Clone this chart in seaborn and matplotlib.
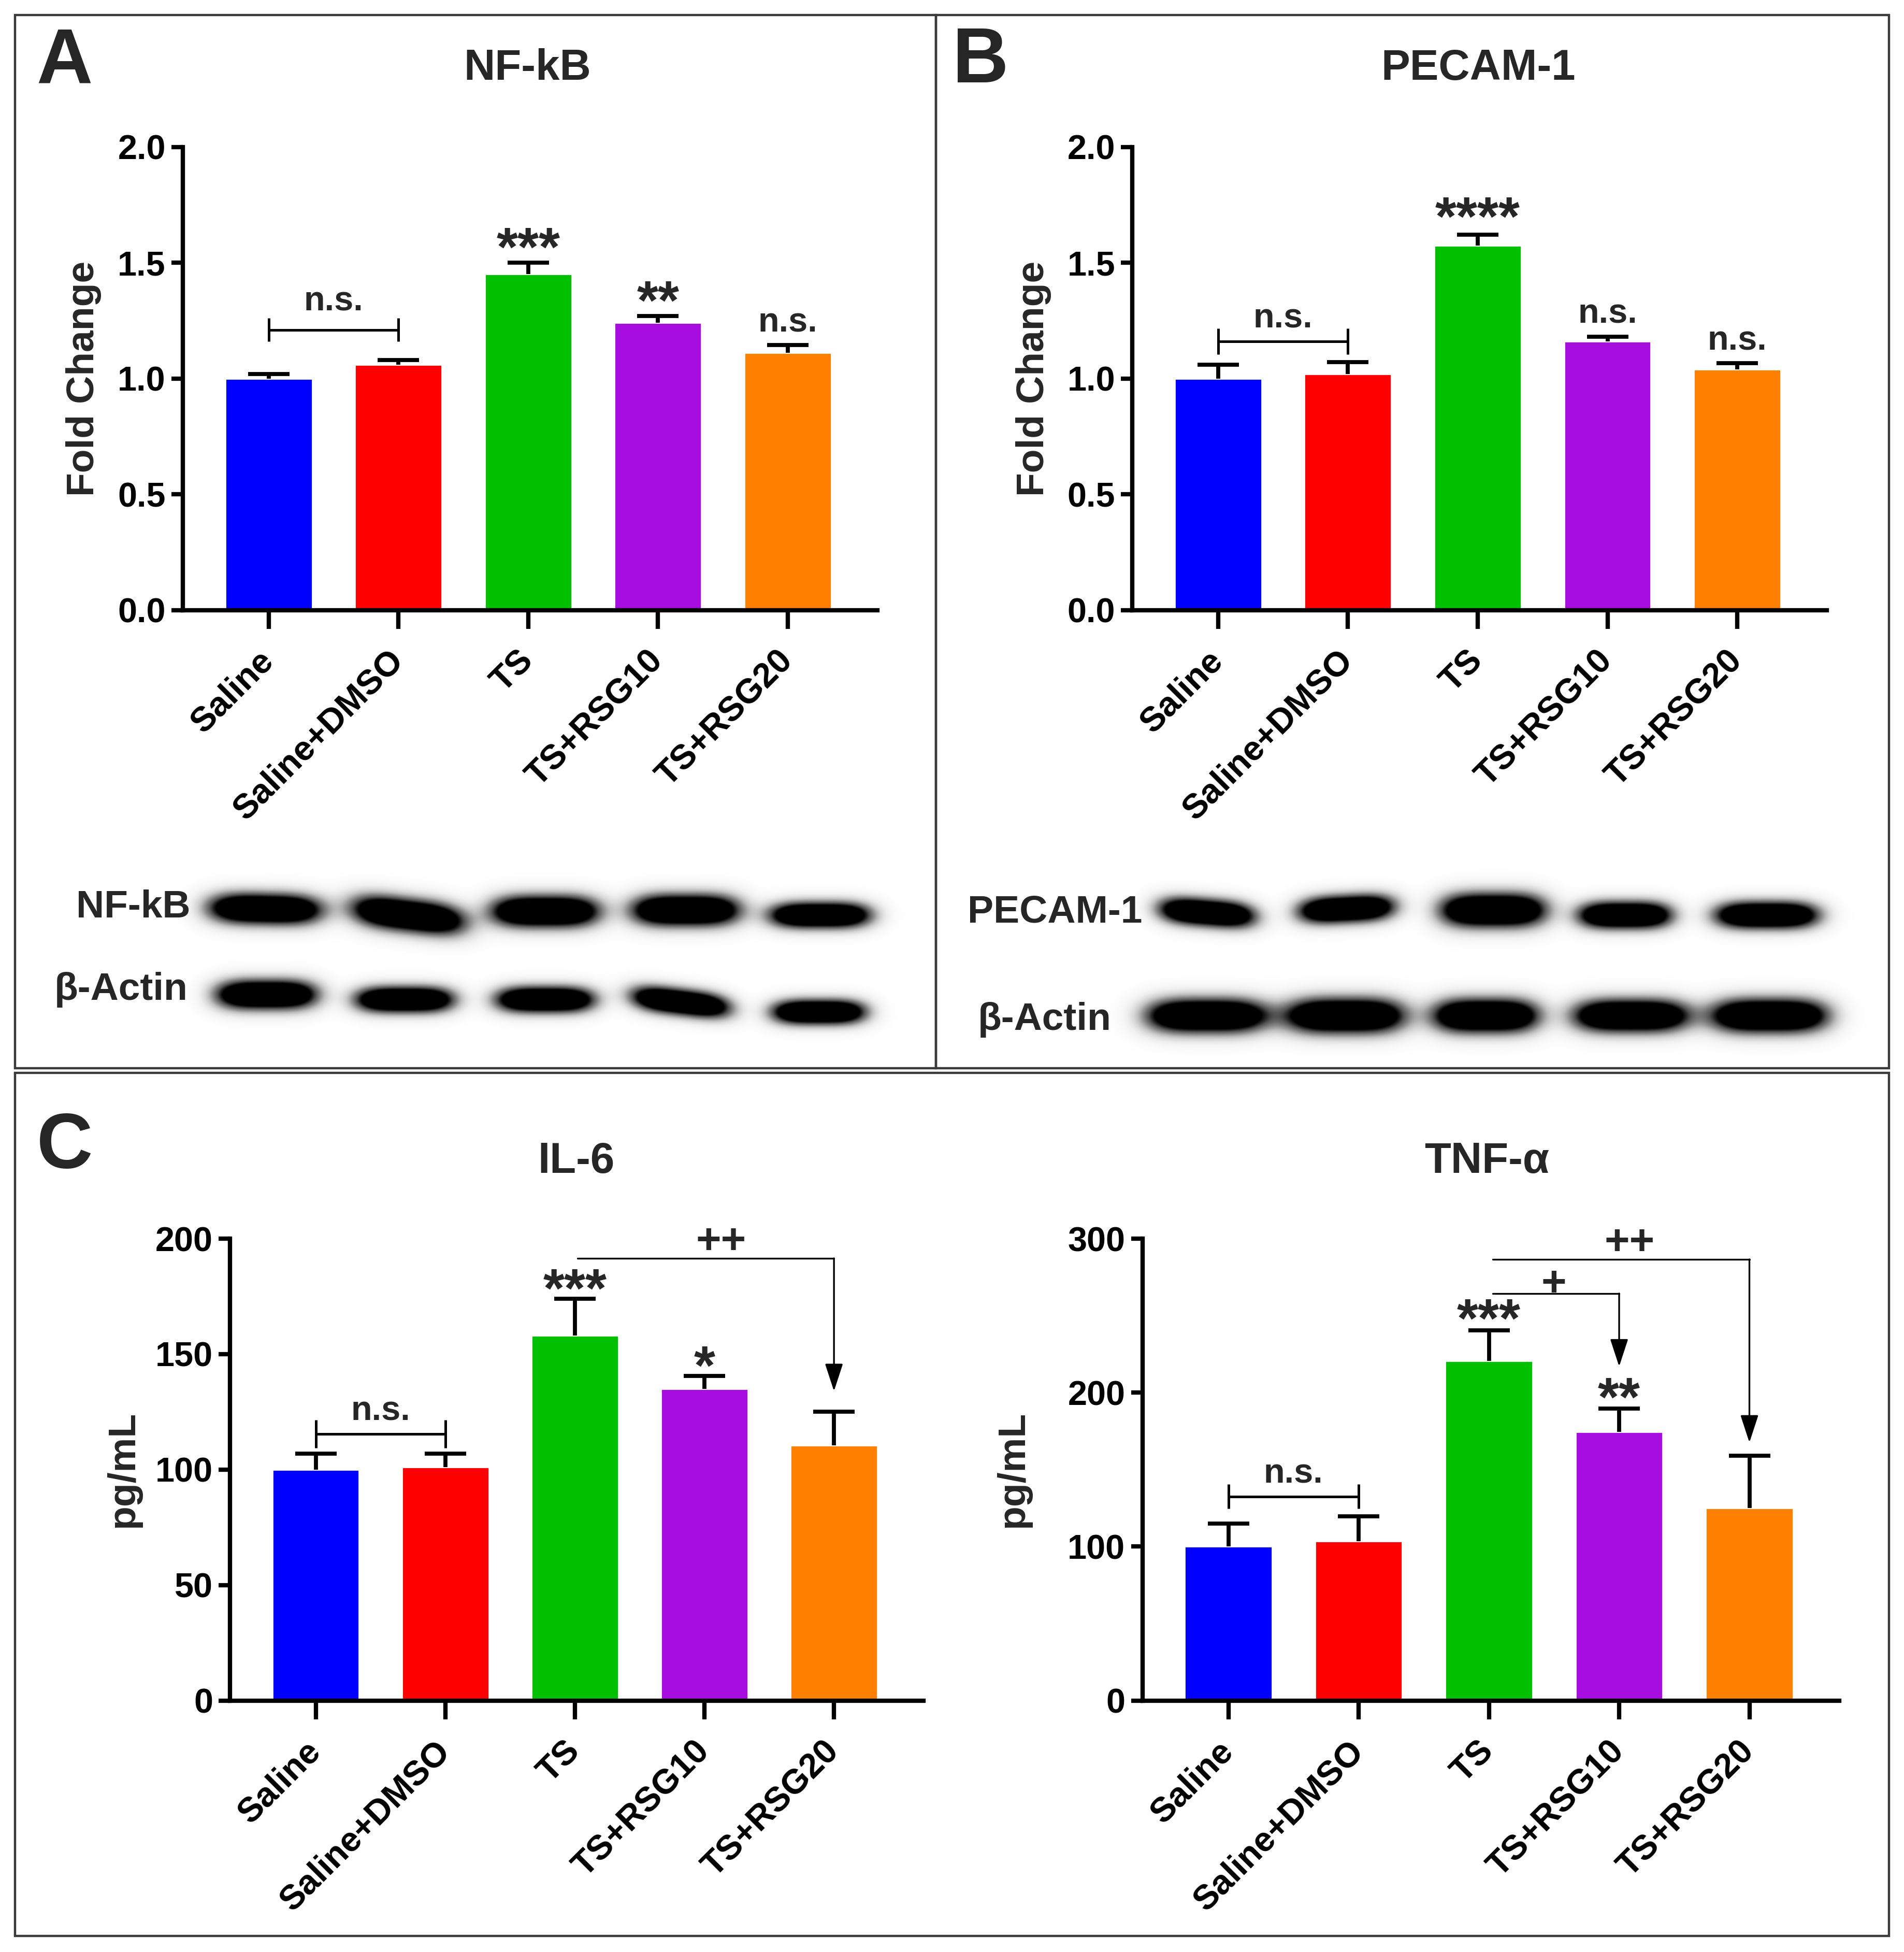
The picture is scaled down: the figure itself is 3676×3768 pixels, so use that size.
import numpy as np
import pandas as pd
import matplotlib
matplotlib.use("Agg")
import matplotlib.pyplot as plt
from matplotlib.patches import Rectangle, ArrowStyle
import seaborn as sns

# ---------------------------------------------------------------
# data
# ---------------------------------------------------------------
groups = ["Saline", "Saline+DMSO", "TS", "TS+RSG10", "TS+RSG20"]
colors = ["#0000FF", "#FF0000", "#00C000", "#A80DDF", "#FF8000"]

nfkb_mean = [1.00, 1.06, 1.45, 1.24, 1.11]
nfkb_err = [0.02, 0.02, 0.05, 0.03, 0.035]
nfkb_marks = ["", "", "***", "**", "n.s."]

pecam_mean = [1.00, 1.02, 1.575, 1.16, 1.04]
pecam_err = [0.06, 0.05, 0.045, 0.02, 0.025]
pecam_marks = ["", "", "****", "n.s.", "n.s."]

il6_mean = [100, 101, 158, 135, 110.5]
il6_err = [7, 6, 16, 5.5, 14.5]
il6_marks = ["", "", "***", "*", ""]

tnf_mean = [100, 103.5, 220.5, 174.5, 125]
tnf_err = [15, 16, 20, 15, 34]
tnf_marks = ["", "", "***", "**", ""]

fold_ticks = [0.0, 0.5, 1.0, 1.5, 2.0]
il6_ticks = [0, 50, 100, 150, 200]
tnf_ticks = [0, 100, 200, 300]

# Saline vs Saline+DMSO bracket level per panel
ns_bracket = {"nfkb": 1.21, "pecam": 1.16, "il6": 115.4, "tnf": 132.6}
# TS -> treated comparisons: (target group, line level, arrow tip, label)
il6_compare = [(4, 191.5, 134, "++")]
tnf_compare = [(3, 264.4, 217, "+"), (4, 286.6, 167.6, "++")]

# western blot bands (x, y, width, height, tilt) in layout pixels
nfkb_band = [(213, 730, 92, 26, 0.02), (328, 735, 92, 28, 0.12), (438, 732, 88, 27, 0.0),
             (551, 731, 88, 27, 0.0), (659, 735, 82, 22, 0.0)]
actin_a_band = [(214, 799, 82, 25, 0.0), (325, 803, 80, 22, 0.0), (438, 803, 80, 22, 0.0),
                (547, 805, 80, 22, 0.12), (658, 813, 76, 21, 0.0)]
pecam_band = [(970, 733, 78, 23, 0.08), (1082, 730, 78, 23, -0.05), (1200, 731, 86, 29, 0.0),
              (1306, 735, 76, 23, 0.0), (1420, 735, 84, 23, 0.0)]
actin_b_band = [(970, 816, 98, 29, 0.0), (1081, 816, 97, 30, 0.0), (1194, 816, 86, 29, 0.0),
                (1311, 816, 94, 28, 0.0), (1422, 816, 95, 29, 0.0)]

# ---------------------------------------------------------------
sns.set_theme(style="ticks")
plt.rcParams["font.family"] = ["Liberation Sans", "DejaVu Sans"]
plt.rcParams["font.weight"] = "bold"

W, H = 1530, 1568   # layout grid of the reference


def box(l, t, r, b):
    return [l / W, 1 - b / H, (r - l) / W, (b - t) / H]


def mark(ax, x, y, s, size, gap):
    # place the glyph centre `gap` points above y
    k = 0.45 if "*" in s else (0.33 if "+" in s else 0.27)
    ax.annotate(s, xy=(x, y), xytext=(0, gap - k * size), textcoords="offset points",
                ha="center", va="baseline", fontsize=size, fontweight="bold",
                annotation_clip=False)


def bracket(ax, x0, x1, y, tick):
    kw = dict(color="black", lw=1.8, clip_on=False, solid_capstyle="butt")
    ax.plot([x0, x1], [y, y], **kw)
    ax.plot([x0, x0], [y - tick, y + tick], **kw)
    ax.plot([x1, x1], [y - tick, y + tick], **kw)


def arrow(ax, x0, x1, y, tip):
    ax.plot([x0, x1], [y, y], color="black", lw=1.2, clip_on=False)
    ax.annotate("", xy=(x1, tip), xytext=(x1, y), annotation_clip=False,
                arrowprops=dict(arrowstyle=ArrowStyle("-|>", head_length=0.55, head_width=0.18),
                                mutation_scale=30, lw=1.2, color="black",
                                shrinkA=0, shrinkB=0))


def bar_panel(ax, mean, err, marks, ticks, fmt, ylabel, label_x, star_gap, ns_gap):
    df = pd.DataFrame({"group": groups, "value": mean})
    sns.barplot(data=df, x="group", y="value", hue="group", palette=colors,
                saturation=1, width=0.67, legend=False, ax=ax, zorder=2)
    xs = np.arange(len(groups))
    top = np.array(mean) + np.array(err)
    # upper-only error bars: stem plus a single cap
    ax.vlines(xs, mean, top, color="black", lw=2.8, zorder=3)
    ax.plot(xs, top, ls="none", marker="_", ms=29, mew=2.8, color="black", zorder=3)
    for i, s in enumerate(marks):
        if s == "n.s.":
            mark(ax, i, top[i], s, 24, ns_gap)
        elif s:
            mark(ax, i, top[i], s, 38, star_gap)

    ax.set_xlim(-0.66, 4.69)
    ax.set_ylim(ticks[0], ticks[-1])
    ax.set_yticks(ticks)
    ax.set_yticklabels([fmt.format(t) for t in ticks])
    ax.set_xticks(range(len(groups)))
    ax.set_xticklabels(groups, rotation=45, ha="right", va="center", rotation_mode="anchor")
    ax.set_xlabel("")
    ax.set_ylabel(ylabel, fontsize=27, fontweight="bold")
    ax.yaxis.set_label_coords(label_x, 0.5)
    for side in ["top", "right"]:
        ax.spines[side].set_visible(False)
    for side in ["left", "bottom"]:
        ax.spines[side].set_linewidth(3)
        ax.spines[side].set_color("black")
    ax.tick_params(axis="x", length=13, width=3, pad=19, labelsize=24, colors="black")
    ax.tick_params(axis="y", length=8, width=3, pad=4, labelsize=24, colors="black")
    for lab in ax.get_xticklabels() + ax.get_yticklabels():
        lab.set_fontweight("bold")
    ax.set_facecolor("none")


def blot(ax, rows, labels, x0, x1, y0, y1):
    xs = np.linspace(x0, x1, 900)
    ys = np.linspace(y0, y1, 260)
    X, Y = np.meshgrid(xs, ys)
    img = np.zeros_like(X)
    for bands in rows:
        for cx, cy, w, h, t in bands:
            dx = (X - cx) / (w / 2)
            dy = (Y - cy - t * (X - cx)) / (h / 2)
            img += 1.8 * np.exp(-np.abs(dx) ** 3.5 - 1.1 * np.abs(dy) ** 2)
    img = np.clip(img, 0, 1)
    ax.imshow(img, cmap="Greys", vmin=0, vmax=1, extent=(x0, x1, y1, y0),
              aspect="auto", interpolation="bilinear")
    ax.set_xlim(x0, x1)
    ax.set_ylim(y1, y0)
    ax.axis("off")
    for (tx, ty, s) in labels:
        ax.text(tx, ty, s, ha="right", va="center", fontsize=27, fontweight="bold")


fig = plt.figure(figsize=(18.38, 18.84), dpi=200)
fig.patch.set_facecolor("white")

# panel frames
for l, t, r, b in [(12, 12, 752, 858), (752, 12, 1518, 858), (12, 862, 1518, 1555)]:
    fig.add_artist(Rectangle((l / W, 1 - b / H), (r - l) / W, (b - t) / H,
                             transform=fig.transFigure, fill=False, ec="#3a3a3a", lw=1.6))

# A: NF-kB
ax_a = fig.add_axes(box(147, 118, 705, 490))
bar_panel(ax_a, nfkb_mean, nfkb_err, nfkb_marks, fold_ticks, "{:.1f}", "Fold Change", -0.117, 15, 15.5)
bracket(ax_a, 0, 1, ns_bracket["nfkb"], 0.05)
mark(ax_a, 0.5, ns_bracket["nfkb"], "n.s.", 24, 20)

# B: PECAM-1
ax_b = fig.add_axes(box(910, 118, 1468, 490))
bar_panel(ax_b, pecam_mean, pecam_err, pecam_marks, fold_ticks, "{:.1f}", "Fold Change", -0.117, 17, 16)
bracket(ax_b, 0, 1, ns_bracket["pecam"], 0.055)
mark(ax_b, 0.5, ns_bracket["pecam"], "n.s.", 24, 16)

# C: IL-6
ax_c = fig.add_axes(box(185, 995, 742, 1366))
bar_panel(ax_c, il6_mean, il6_err, il6_marks, il6_ticks, "{:d}", "pg/mL", -0.129, 11.5, 14)
bracket(ax_c, 0, 1, ns_bracket["il6"], 6)
mark(ax_c, 0.5, ns_bracket["il6"], "n.s.", 24, 16)
for tgt, lvl, tip, s in il6_compare:
    arrow(ax_c, 2.02, tgt, lvl, tip)
    mark(ax_c, (2 + tgt) / 2 + 0.13, lvl, s, 30, 13)

# C: TNF-alpha
ax_d = fig.add_axes(box(918, 995, 1478, 1366))
bar_panel(ax_d, tnf_mean, tnf_err, tnf_marks, tnf_ticks, "{:d}", "pg/mL", -0.16, 12.5, 14)
bracket(ax_d, 0, 1, ns_bracket["tnf"], 8)
mark(ax_d, 0.5, ns_bracket["tnf"], "n.s.", 24, 16)
for tgt, lvl, tip, s in tnf_compare:
    arrow(ax_d, 2.03, tgt, lvl, tip)
    mark(ax_d, (2 + tgt) / 2 + (0.0 if tgt == 3 else 0.08), lvl, s, 30, 8 if tgt == 3 else 13)

# western blots
ax_wa = fig.add_axes(box(20, 690, 748, 850))
blot(ax_wa, [nfkb_band, actin_a_band],
     [(153, 729, "NF-kB"), (151, 795, "β-Actin")], 20, 748, 690, 850)
ax_wb = fig.add_axes(box(756, 690, 1512, 850))
blot(ax_wb, [pecam_band, actin_b_band],
     [(918, 733, "PECAM-1"), (893, 819, "β-Actin")], 756, 1512, 690, 850)

# titles and panel letters
for x, y, s in [(424, 55, "NF-kB"), (1188, 55, "PECAM-1"), (463, 933, "IL-6"), (1195, 933, "TNF-α")]:
    fig.text(x / W, 1 - y / H, s, ha="center", va="center", fontsize=30, fontweight="bold")
for x, y, s in [(52, 50, "A"), (788, 50, "B"), (52, 922, "C")]:
    fig.text(x / W, 1 - y / H, s, ha="center", va="center", fontsize=54, fontweight="heavy")

fig.savefig("out.png", dpi=200, facecolor="white")
